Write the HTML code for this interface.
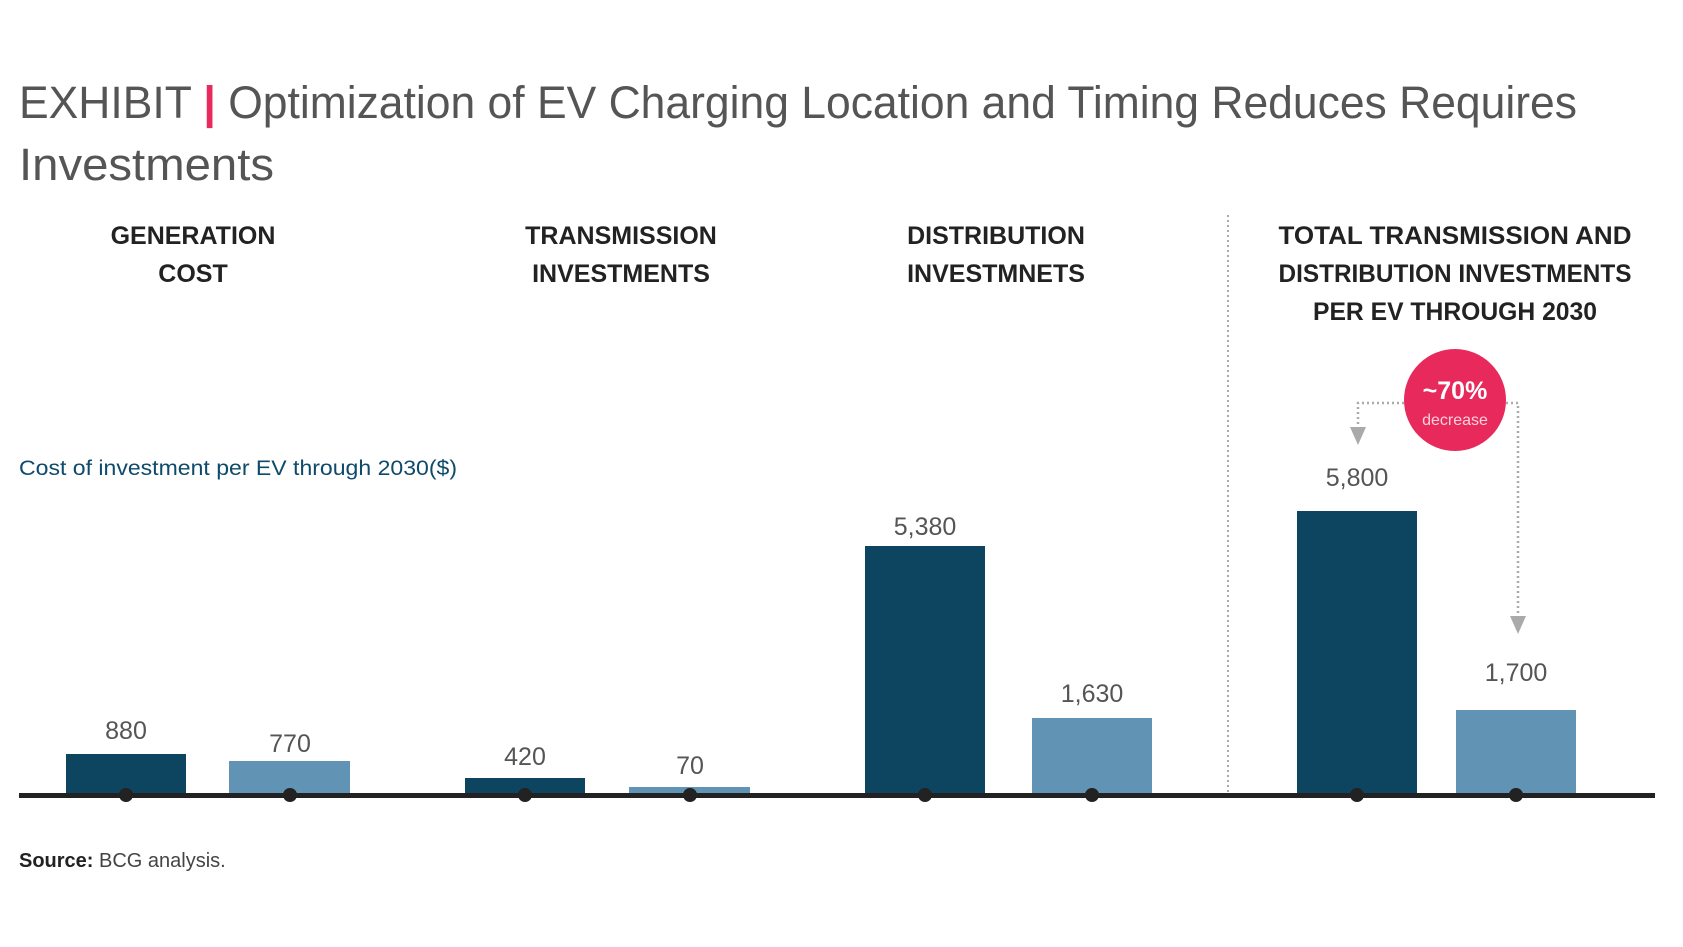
<!DOCTYPE html>
<html><head><meta charset="utf-8"><style>
html,body{margin:0;padding:0;background:#fff;}
svg{display:block;font-family:"Liberation Sans",sans-serif;}
</style></head><body>
<svg width="1683" height="947" viewBox="0 0 1683 947" xmlns="http://www.w3.org/2000/svg">
<text x="19" y="118" font-size="45" fill="#555" textLength="1558" lengthAdjust="spacingAndGlyphs">EXHIBIT <tspan fill="#e8295c" font-weight="bold">|</tspan> Optimization of EV Charging Location and Timing Reduces Requires</text>
<text x="19" y="180" font-size="45" fill="#555" textLength="255" lengthAdjust="spacingAndGlyphs">Investments</text>

<g font-size="25" font-weight="bold" fill="#222" text-anchor="middle">
<text x="193" y="244">GENERATION</text><text x="193" y="282">COST</text>
<text x="621" y="244">TRANSMISSION</text><text x="621" y="282">INVESTMENTS</text>
<text x="996" y="244">DISTRIBUTION</text><text x="996" y="282">INVESTMNETS</text>
<text x="1455" y="244" textLength="353" lengthAdjust="spacingAndGlyphs">TOTAL TRANSMISSION AND</text>
<text x="1455" y="282" textLength="353" lengthAdjust="spacingAndGlyphs">DISTRIBUTION INVESTMENTS</text>
<text x="1455" y="320" textLength="284" lengthAdjust="spacingAndGlyphs">PER EV THROUGH 2030</text>
</g>

<text x="19" y="475" font-size="21" fill="#0d4a6b" textLength="438" lengthAdjust="spacingAndGlyphs">Cost of investment per EV through 2030($)</text>

<line x1="1228" y1="215" x2="1228" y2="795" stroke="#aaa" stroke-width="2" stroke-dasharray="2,3"/>

<g fill="#0d4460">
<rect x="66" y="754" width="120" height="41"/>
<rect x="465" y="778" width="120" height="17"/>
<rect x="865" y="546" width="120" height="249"/>
<rect x="1297" y="511" width="120" height="284"/>
</g>
<g fill="#6093b4">
<rect x="229" y="761" width="121" height="34"/>
<rect x="629" y="787" width="121" height="8"/>
<rect x="1032" y="718" width="120" height="77"/>
<rect x="1456" y="710" width="120" height="85"/>
</g>

<rect x="19" y="793" width="1636" height="5" fill="#222"/>
<g fill="#222">
<circle cx="126" cy="795" r="7"/><circle cx="290" cy="795" r="7"/>
<circle cx="525" cy="795" r="7"/><circle cx="690" cy="795" r="7"/>
<circle cx="925" cy="795" r="7"/><circle cx="1092" cy="795" r="7"/>
<circle cx="1357" cy="795" r="7"/><circle cx="1516" cy="795" r="7"/>
</g>

<g font-size="25" fill="#555" text-anchor="middle">
<text x="126" y="739">880</text>
<text x="290" y="752">770</text>
<text x="525" y="765">420</text>
<text x="690" y="774">70</text>
<text x="925" y="535">5,380</text>
<text x="1092" y="702">1,630</text>
<text x="1357" y="486">5,800</text>
<text x="1516" y="681">1,700</text>
</g>

<g stroke="#aaa" stroke-width="2.5" stroke-dasharray="2,3" fill="none">
<polyline points="1404,403 1358,403 1358,430"/>
<polyline points="1506,403 1518,403 1518,620"/>
</g>
<g fill="#aaa">
<polygon points="1350,427 1366,427 1358,445"/>
<polygon points="1510,616 1526,616 1518,634"/>
</g>

<circle cx="1455" cy="400" r="51" fill="#e8295c"/>
<text x="1455" y="399" font-size="25" font-weight="bold" fill="#fff" text-anchor="middle">~70%</text>
<text x="1455" y="425" font-size="16" fill="#fbd0dc" text-anchor="middle">decrease</text>

<text x="19" y="867" font-size="20" fill="#444"><tspan font-weight="bold" fill="#222">Source:</tspan> BCG analysis.</text>
</svg>
</body></html>
